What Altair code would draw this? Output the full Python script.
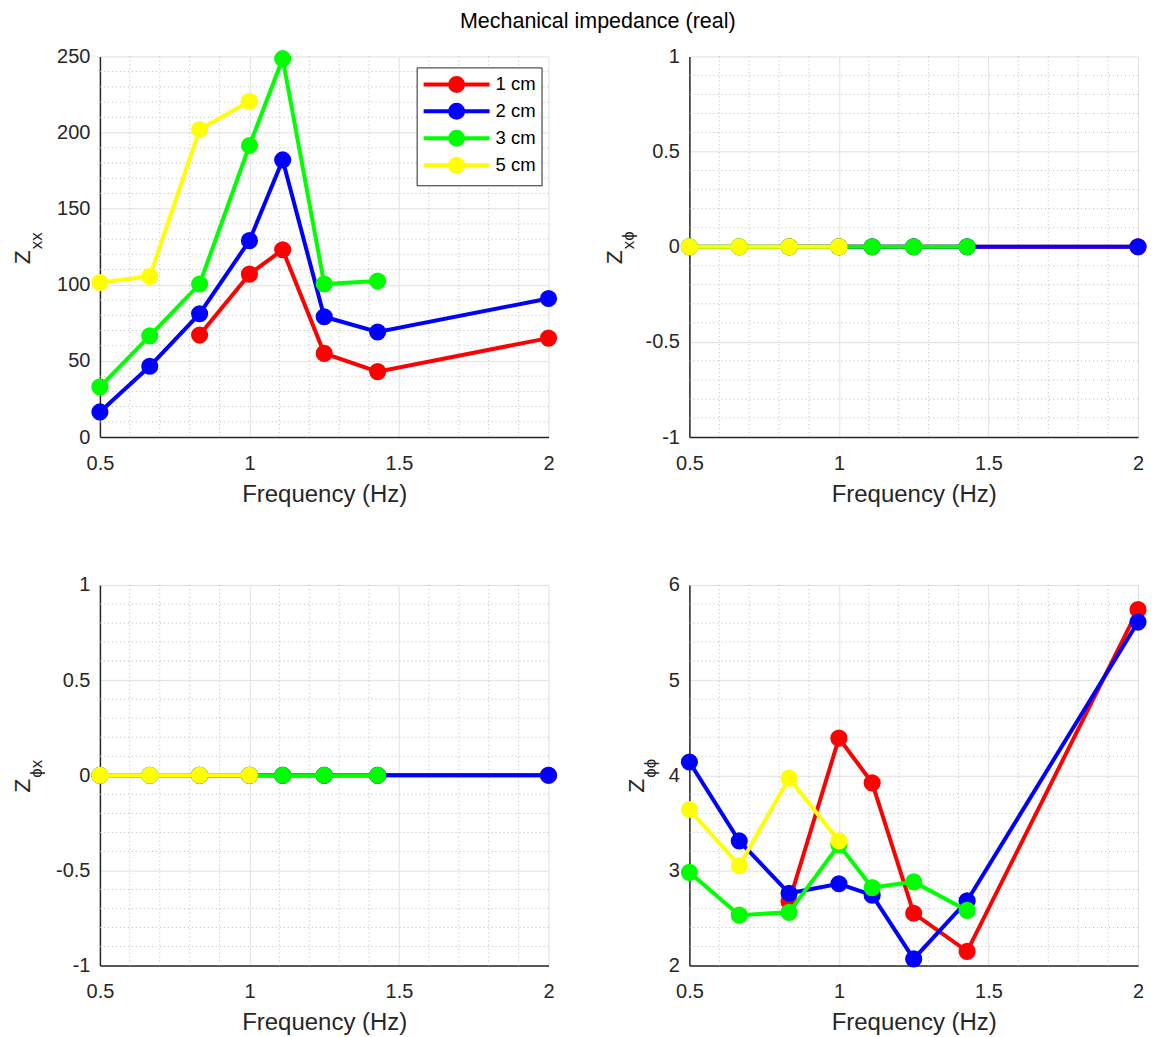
import altair as alt
import pandas as pd

FONT = "Liberation Sans, Arial, DejaVu Sans"

freq = [0.5, 0.6667, 0.8333, 1.0, 1.1111, 1.25, 1.4286, 2.0]
series_names = ["1 cm", "2 cm", "3 cm", "5 cm"]
series_colors = ["#ff0000", "#0000ff", "#00ff00", "#ffff00"]

# Z_xx
zxx_1cm = [None, None, 67, 107, 123, 55, 43, 65]
zxx_2cm = [16.5, 46.5, 81, 129, 182, 79, 69, 91]
zxx_3cm = [33, 66.5, 100.5, 191.5, 248.5, 100.5, 102.5, None]
zxx_5cm = [101.5, 105.5, 202, 220.5, None, None, None, None]

# Z_x-phi
zxp_1cm = [None, None, 0, 0, 0, 0, 0, 0]
zxp_2cm = [0, 0, 0, 0, 0, 0, 0, 0]
zxp_3cm = [0, 0, 0, 0, 0, 0, 0, None]
zxp_5cm = [0, 0, 0, 0, None, None, None, None]

# Z_phi-x
zpx_1cm = [None, None, 0, 0, 0, 0, 0, 0]
zpx_2cm = [0, 0, 0, 0, 0, 0, 0, 0]
zpx_3cm = [0, 0, 0, 0, 0, 0, 0, None]
zpx_5cm = [0, 0, 0, 0, None, None, None, None]

# Z_phi-phi
zpp_1cm = [None, None, 2.67, 4.39, 3.92, 2.55, 2.15, 5.74]
zpp_2cm = [4.14, 3.31, 2.76, 2.86, 2.74, 2.07, 2.68, 5.61]
zpp_3cm = [2.98, 2.53, 2.56, 3.27, 2.82, 2.88, 2.58, None]
zpp_5cm = [3.64, 3.05, 3.97, 3.31, None, None, None, None]

x_major = [0.5, 1, 1.5, 2]
x_minor = [0.6, 0.7, 0.8, 0.9, 1.1, 1.2, 1.3, 1.4, 1.6, 1.7, 1.8, 1.9]

zxx_major = [0, 50, 100, 150, 200, 250]
zxx_minor = [v for v in range(10, 250, 10) if v % 50 != 0]
pm1_major = [-1, -0.5, 0, 0.5, 1]
pm1_minor = [round(-1 + 0.1 * k, 1) for k in range(1, 20) if k % 5 != 0]
zpp_major = [2, 3, 4, 5, 6]
zpp_minor = [round(2 + 0.2 * k, 1) for k in range(1, 20) if k % 5 != 0]

PW, PH = 449, 381

# legend glyph: a line with a filled circle on it (circle built from cubic curves)
LEGEND_SYMBOL = (
    "M-3.3,0L3.3,0"
    "M0.65,0C0.65,0.359,0.359,0.65,0,0.65C-0.359,0.65,-0.65,0.359,-0.65,0"
    "C-0.65,-0.359,-0.359,-0.65,0,-0.65C0.359,-0.65,0.65,-0.359,0.65,0Z"
)

legend_def = alt.Legend(
    title=None,
    orient="none",
    legendX=317,
    legendY=11,
    strokeColor="#262626",
    fillColor="white",
    padding=5,
    labelFont=FONT,
    labelFontSize=18.5,
    labelColor="black",
    symbolType=LEGEND_SYMBOL,
    symbolSize=400,
    symbolStrokeWidth=4,
    symbolOffset=23,
    labelOffset=27,
    rowPadding=-3,
    cornerRadius=0,
)

MINOR = dict(color="#bababa", strokeDash=[1, 3], strokeWidth=1)


def panel(values, ydom, ymaj, ymin, zsub, zx, sx, with_legend):
    xs = alt.Scale(domain=[0.5, 2], nice=False, zero=False)
    ys = alt.Scale(domain=ydom, nice=False, zero=False)
    xax = alt.Axis(values=x_major, title="Frequency (Hz)", labelExpr="'' + datum.value", labelFlush=False)
    yax = alt.Axis(values=ymaj, title=None, labelExpr="'' + datum.value", labelFlush=False)
    cscale = alt.Scale(domain=series_names, range=series_colors)

    layers = [
        alt.Chart(pd.DataFrame({"v": x_minor})).mark_rule(**MINOR)
        .encode(x=alt.X("v:Q", scale=xs, axis=xax)),
        alt.Chart(pd.DataFrame({"v": ymin})).mark_rule(**MINOR)
        .encode(y=alt.Y("v:Q", scale=ys, axis=yax)),
    ]
    for i, (name, vals) in enumerate(zip(series_names, values)):
        rows = [{"f": f, "z": v, "s": name} for f, v in zip(freq, vals) if v is not None]
        df = pd.DataFrame(rows)
        leg = legend_def if (with_legend and i == 0) else None
        line = alt.Chart(df).mark_line(color=series_colors[i], strokeWidth=4).encode(
            x=alt.X("f:Q", scale=xs, axis=xax),
            y=alt.Y("z:Q", scale=ys, axis=yax),
        )
        pts = alt.Chart(df).mark_circle(size=230, opacity=1).encode(
            x=alt.X("f:Q", scale=xs, axis=xax),
            y=alt.Y("z:Q", scale=ys, axis=yax),
            fill=alt.Fill("s:N", scale=cscale, legend=leg),
            stroke=alt.Stroke("s:N", scale=cscale, legend=leg),
        )
        layers += [line, pts]

    # y-axis title: "Z" with a subscript, as two rotated text marks
    ztext = alt.Chart(pd.DataFrame({"t": ["Z"]})).mark_text(
        angle=270, align="left", baseline="alphabetic", font=FONT, fontSize=23, color="#262626"
    ).encode(x=alt.value(zx), y=alt.value(208), text="t:N")
    stext = alt.Chart(pd.DataFrame({"t": [zsub]})).mark_text(
        angle=270, align="left", baseline="alphabetic", font=FONT, fontSize=17, color="#262626"
    ).encode(x=alt.value(sx), y=alt.value(193), text="t:N")
    layers += [ztext, stext]
    return alt.layer(*layers).properties(width=PW, height=PH)


p1 = panel([zxx_1cm, zxx_2cm, zxx_3cm, zxx_5cm], [0, 250], zxx_major, zxx_minor, "xx", -70, -58, True)
p2 = panel([zxp_1cm, zxp_2cm, zxp_3cm, zxp_5cm], [-1, 1], pm1_major, pm1_minor, "xϕ", -67, -55, False)
p3 = panel([zpx_1cm, zpx_2cm, zpx_3cm, zpx_5cm], [-1, 1], pm1_major, pm1_minor, "ϕx", -70, -58, False)
p4 = panel([zpp_1cm, zpp_2cm, zpp_3cm, zpp_5cm], [2, 6], zpp_major, zpp_minor, "ϕϕ", -45, -33, False)

chart = (
    alt.concat(p1, p2, p3, p4, columns=2, spacing={"row": 148, "column": 141}, bounds="flush")
    .resolve_scale(fill="independent", stroke="independent")
    .resolve_legend(fill="independent", stroke="independent")
    .properties(
        title=alt.TitleParams(
            text="Mechanical impedance (real)",
            font=FONT,
            fontSize=21.5,
            fontWeight="normal",
            color="black",
            anchor="middle",
            offset=13.5,
            dx=17,
        ),
        padding={"left": 4, "top": 3, "right": 0, "bottom": 0},
        background="white",
    )
    .configure_view(stroke=None)
    .configure_axis(
        labelFont=FONT,
        titleFont=FONT,
        labelFontSize=20,
        titleFontSize=24,
        labelColor="#262626",
        titleColor="#262626",
        titleFontWeight="normal",
        domainColor="#262626",
        domainWidth=1.5,
        gridColor="#e0e0e0",
        gridWidth=1,
        ticks=False,
    )
    .configure_axisX(labelPadding=16, titlePadding=9)
    .configure_axisY(labelPadding=10)
)

chart.save("out.html", embed_options={"renderer": "svg", "actions": False})
